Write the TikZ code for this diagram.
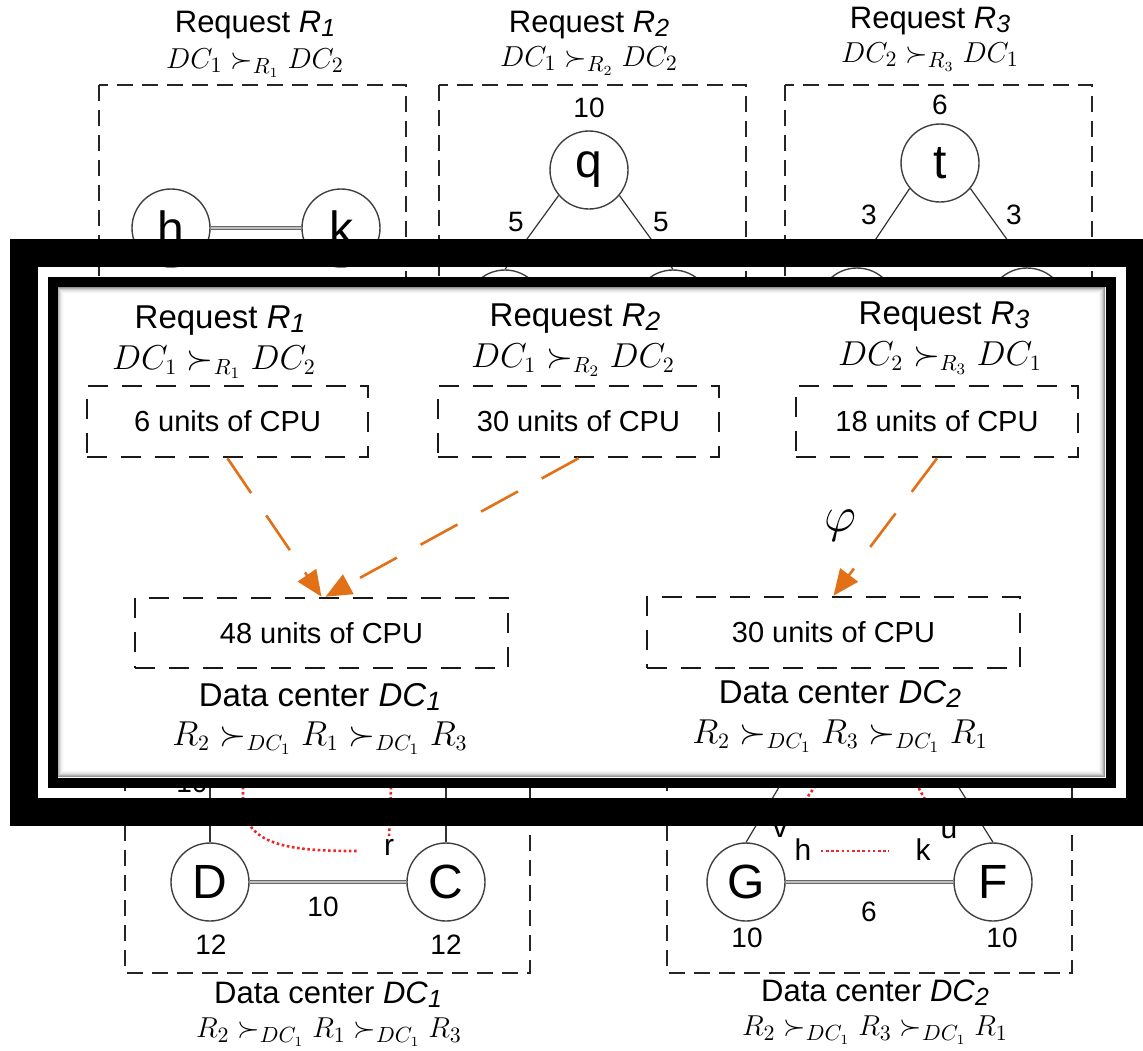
\documentclass[tikz,border=0pt]{standalone}
\usepackage{fontspec}
\usepackage{graphicx}
\setmainfont{Liberation Sans}
\usetikzlibrary{arrows.meta}
\definecolor{arrowor}{RGB}{226,112,22}
\definecolor{dotred}{RGB}{238,40,40}
\newcommand{\fsz}[1]{\fontsize{#1}{#1}\selectfont}
\newcommand{\tsub}[1]{\raisebox{-0.12em}{\scalebox{0.8}{\itshape #1}}}
\begin{document}
\begin{tikzpicture}[x=0.5pt,y=-0.5pt,
  bgbox/.style={draw=black!85, line width=1.1pt, dash pattern=on 8pt off 4.5pt},
  vnode/.style={circle, draw=black!75, line width=0.7pt, minimum size=39pt, inner sep=0pt, font=\fsz{24}},
  num/.style={font=\fsz{14}, inner sep=1pt},
  small/.style={font=\fsz{15}, inner sep=1pt},
  bgtitle/.style={font=\fsz{15.5}, inner sep=0pt},
  bgmath/.style={font=\fsz{15}, inner sep=0pt},
  tedge/.style={draw=black!80, line width=0.6pt},
  dedge/.style={draw=black!60, line width=0.6pt, double=black!25, double distance=1pt},
  reddot/.style={draw=dotred, line width=1.3pt, dash pattern=on 1.3pt off 1.3pt},
  ptitle/.style={font=\fsz{16.5}, inner sep=0pt},
  pmath/.style={font=\fsz{16}, inner sep=0pt},
  pbox/.style={draw=black!90, line width=1.3pt, dash pattern=on 10pt off 7pt, inner sep=0pt, font=\fsz{14.5}},
  oarrow/.style={draw=arrowor, line width=1.3pt, dash pattern=on 21pt off 13.5pt, -{Triangle[length=13pt,width=11pt]}},
]
\useasboundingbox (0,0) rectangle (1143,1050);
\clip (0,0) rectangle (1143,1050);
\fill[white] (0,0) rectangle (1143,1050);

% ---------------- background: requests ----------------
\node[bgtitle] (bt1) at (255,25) {Request \textit{R}\tsub{1}};
\node[bgmath] (bm1) at (255,63) {$DC_1 \succ_{R_1} DC_2$};
\node[bgtitle] (bt2) at (589,25) {Request \textit{R}\tsub{2}};
\node[bgmath] (bm2) at (589,61) {$DC_1 \succ_{R_2} DC_2$};
\node[bgtitle] (bt3) at (930,21) {Request \textit{R}\tsub{3}};
\node[bgmath] (bm3) at (930,57) {$DC_2 \succ_{R_3} DC_1$};

\draw[bgbox] (99,85) rectangle (406,420);
\draw[bgbox] (439,85) rectangle (746,420);
\draw[bgbox] (785,85) rectangle (1092,420);

\node[vnode] (h) at (171,228) {h};
\node[vnode] (k) at (341,228) {k};
\draw[dedge] (h) -- (k);

\node[vnode] (q) at (589,170) {q};
\node[num] (q10) at (589,108) {10};
\node[vnode] (qa) at (505,309) {};
\node[vnode] (qb) at (673,309) {};
\draw[tedge] (q.220) -- (qa.north);
\draw[tedge] (q.320) -- (qb.north);
\node[num] (q5a) at (516,222) {5};
\node[num] (q5b) at (661,222) {5};

\node[vnode] (t) at (940,163) {t};
\node[num] (t6) at (940,105) {6};
\node[vnode] (ta) at (857,307) {};
\node[vnode] (tb) at (1027,307) {};
\draw[tedge] (t.220) -- (ta.north);
\draw[tedge] (t.320) -- (tb.north);
\node[num] (t3a) at (869,215) {3};
\node[num] (t3b) at (1014,215) {3};

% ---------------- background: data centers ----------------
\draw[bgbox] (125,600) rectangle (530,973);
\draw[bgbox] (667,600) rectangle (1072,973);

\node[vnode] (D) at (210,882) {D};
\node[vnode] (C) at (446,882) {C};
\node[vnode] (G) at (746,882) {G};
\node[vnode] (F) at (993,882) {F};
\draw[dedge] (D) -- (C);
\draw[dedge] (G) -- (F);
\coordinate (Dup) at (210,700);
\coordinate (Cup) at (446,700);
\coordinate (dctop) at (867,640);
\draw[tedge] (D.north) -- (Dup);
\draw[tedge] (C.north) -- (Cup);
\draw[tedge] (G.north) -- (dctop);
\draw[tedge] (F.north) -- (dctop);

\node[num] (n10a) at (192,783) {10};
\node[num] (dc10) at (323,907) {10};
\node[num] (d12) at (211,945) {12};
\node[num] (c12) at (446,945) {12};
\node[num] (gf6) at (869,912) {6};
\node[num] (g10) at (747,938) {10};
\node[num] (f10) at (1002,938) {10};

\node[small] (rl) at (389,847) {r};
\node[small] (vl) at (780,830) {v};
\node[small] (ul) at (949,831) {u};
\node[small] (hl) at (803,850) {h};
\node[small] (kl) at (923,850) {k};
\draw[reddot] (hl.east) ++(7,1) -- ([xshift=-12pt,yshift=-0.5pt]kl.west);

\coordinate (ra0) at (243,740);
\coordinate (ra1) at (243,800);
\coordinate (ra2) at (357,851);
\draw[reddot] (ra0) -- (ra1) .. controls (243,846) and (290,851) .. (ra2);
\coordinate (rv0) at (393,740);
\draw[reddot] (rv0) -- (rl.north);
\coordinate (rs0) at (840,752);
\coordinate (rs1) at (798,810);
\draw[reddot] (rs0) -- (rs1);
\coordinate (rt0) at (898,752);
\coordinate (rt1) at (934,815);
\draw[reddot] (rt0) -- (rt1);

\node[bgtitle] (bdt1) at (328,995) {Data center \textit{DC}\tsub{1}};
\node[bgmath] (bdm1) at (329,1032) {$R_2 \succ_{DC_1} R_1 \succ_{DC_1} R_3$};
\node[bgtitle] (bdt2) at (875,993) {Data center \textit{DC}\tsub{2}};
\node[bgmath] (bdm2) at (875,1030) {$R_2 \succ_{DC_1} R_3 \succ_{DC_1} R_1$};

% ---------------- frames and panel ----------------
\draw[black, line width=14pt] (24,253) rectangle (1140,811.5);
\fill[white] (52,282) rectangle (1110,782);
\foreach \i/\o in {1/0.42,2/0.30,3/0.20,4/0.12,5/0.07,6/0.035,7/0.015} {
  \draw[black, opacity=\o, line width=0.5pt] (57+\i-0.5,287+\i-0.5) rectangle (1105-\i+0.5,777-\i+0.5);
}
\draw[black, line width=5pt] (52.5,282) rectangle (1110.5,782.5);

% ---------------- panel content ----------------
\node[ptitle] (pt1) at (220,321) {Request \textit{R}\tsub{1}};
\node[pmath] (pm1) at (214,362) {$DC_1 \succ_{R_1} DC_2$};
\node[ptitle] (pt2) at (575,319) {Request \textit{R}\tsub{2}};
\node[pmath] (pm2) at (573,360) {$DC_1 \succ_{R_2} DC_2$};
\node[ptitle] (pt3) at (944,317) {Request \textit{R}\tsub{3}};
\node[pmath] (pm3) at (940,358) {$DC_2 \succ_{R_3} DC_1$};

\node[pbox, minimum width=140.5pt, minimum height=35.5pt] (b1) at (227.5,421.5) {6 units of CPU};
\node[pbox, minimum width=140.5pt, minimum height=35.5pt] (b2) at (578.5,421.5) {30 units of CPU};
\node[pbox, minimum width=141pt, minimum height=35.5pt] (b3) at (937,421.5) {18 units of CPU};
\node[pbox, minimum width=186.5pt, minimum height=35pt] (b4) at (321.5,633) {48 units of CPU};
\node[pbox, minimum width=186.5pt, minimum height=35.5pt] (b5) at (833.5,632.5) {30 units of CPU};

\draw[oarrow] (b1.south) -- (b4.north);
\draw[oarrow] (b2.south) -- ([xshift=2pt]b4.north);
\draw[oarrow] (b3.south) -- (b5.north);
\node[font=\fsz{32}] (phi) at (840,526) {$\varphi$};

\node[ptitle] (pd1) at (320,697) {Data center \textit{DC}\tsub{1}};
\node[pmath] (pdm1) at (320,738) {$R_2 \succ_{DC_1} R_1 \succ_{DC_1} R_3$};
\node[ptitle] (pd2) at (840,694) {Data center \textit{DC}\tsub{2}};
\node[pmath] (pdm2) at (840,736) {$R_2 \succ_{DC_1} R_3 \succ_{DC_1} R_1$};
\end{tikzpicture}
\end{document}
